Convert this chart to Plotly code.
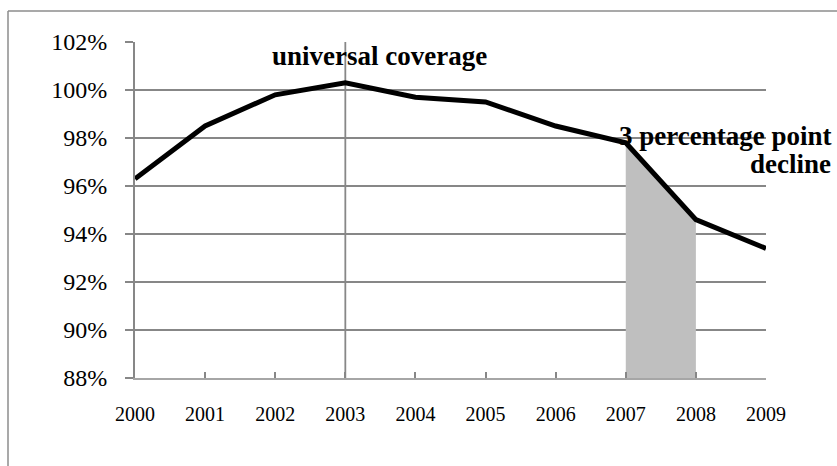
import plotly.graph_objects as go

# Coverage rate by year
years = [2000, 2001, 2002, 2003, 2004, 2005, 2006, 2007, 2008, 2009]
coverage = [96.3, 98.5, 99.8, 100.3, 99.7, 99.5, 98.5, 97.8, 94.6, 93.4]

# Decline period shaded under the curve
decline_years = [2007, 2008]
decline_vals = [97.8, 94.6]

y_ticks = [88, 90, 92, 94, 96, 98, 100, 102]
y_labels = [f"{v}%" for v in y_ticks]
milestone_year = 2003

GRID = "#878787"
FONT = "Liberation Serif"

fig = go.Figure()

fig.add_trace(go.Scatter(
    x=decline_years, y=decline_vals, mode="lines",
    line=dict(width=0, color="#bfbfbf"),
    fill="tozeroy", fillcolor="#bfbfbf",
    hoverinfo="skip", showlegend=False,
))

fig.add_trace(go.Scatter(
    x=years, y=coverage, mode="lines",
    line=dict(color="black", width=5),
    showlegend=False,
))

# Marker line for the universal coverage year
fig.add_shape(type="line", xref="x", yref="y",
              x0=milestone_year, x1=milestone_year, y0=88, y1=102,
              line=dict(color=GRID, width=1.8), layer="below")

# Outer frame (top and left edges)
L, R, T, B = 135, 71, 42, 88
W, H = 837, 466
pw, ph = W - L - R, H - T - B
def px(xp):
    return (xp - L) / pw
def py(yp):
    return (H - B - yp) / ph

fig.add_shape(type="line", xref="paper", yref="paper",
              x0=px(8), x1=px(840), y0=py(11), y1=py(11),
              line=dict(color="#8c8c8c", width=1.5))
fig.add_shape(type="line", xref="paper", yref="paper",
              x0=px(8), x1=px(8), y0=py(11), y1=py(470),
              line=dict(color="#8c8c8c", width=1.5))

ann_font = dict(family=FONT, size=27, color="black")
fig.add_annotation(x=px(379), y=py(56), xref="paper", yref="paper",
                   text="<b>universal coverage</b>", showarrow=False,
                   xanchor="center", yanchor="middle", font=ann_font)
fig.add_annotation(x=px(833), y=py(136), xref="paper", yref="paper",
                   text="<b>3 percentage point</b>", showarrow=False,
                   xanchor="right", yanchor="middle", font=ann_font)
fig.add_annotation(x=px(833), y=py(164), xref="paper", yref="paper",
                   text="<b>decline</b>", showarrow=False,
                   xanchor="right", yanchor="middle", font=ann_font)

fig.update_layout(
    width=W, height=H,
    margin=dict(l=L, r=R, t=T, b=B),
    paper_bgcolor="white", plot_bgcolor="white",
    font=dict(family=FONT, color="black"),
)

fig.update_xaxes(
    range=[2000, 2009], tickvals=years, ticktext=[str(y) for y in years],
    showgrid=False, zeroline=False,
    showline=True, linecolor="#a6a6a6", linewidth=1.5,
    ticks="inside", ticklen=6, tickcolor=GRID, tickwidth=1.5,
    tickfont=dict(family=FONT, size=20, color="black"),
    ticklabelstandoff=17,
)
fig.update_yaxes(
    range=[88, 102], tickvals=y_ticks, ticktext=y_labels,
    showgrid=True, gridcolor=GRID, gridwidth=1.8, zeroline=False,
    showline=True, linecolor=GRID, linewidth=1.8,
    ticks="outside", ticklen=8, tickcolor=GRID, tickwidth=1.8,
    tickfont=dict(family=FONT, size=24, color="black"),
    ticklabelstandoff=13,
)

fig.write_html("out.html")
